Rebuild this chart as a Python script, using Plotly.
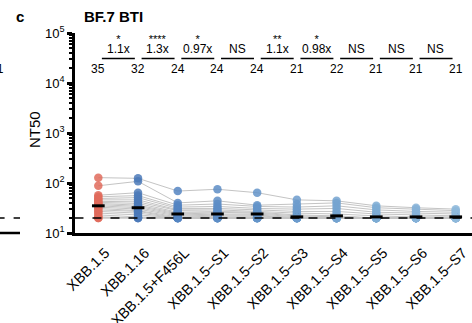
import plotly.graph_objects as go

# Pseudovirus variants tested against BF.7 breakthrough-infection sera
variants = ["XBB.1.5", "XBB.1.16", "XBB.1.5+F456L", "XBB.1.5–S1", "XBB.1.5–S2",
            "XBB.1.5–S3", "XBB.1.5–S4", "XBB.1.5–S5", "XBB.1.5–S6", "XBB.1.5–S7"]
gmt = [35, 32, 24, 24, 24, 21, 22, 21, 21, 21]
fold_change = ["1.1x", "1.3x", "0.97x", "NS", "1.1x", "0.98x", "NS", "NS", "NS"]
significance = ["*", "****", "*", "", "**", "*", "", "", ""]
lod = 20
point_colors = ["#E06B5C", "#4C7AB9", "#5585C2", "#5D8DC6", "#6494C9",
                "#6C9BCC", "#74A3D0", "#7DABD3", "#86B2D7", "#8EB9DA"]

# NT50 per donor (rows) across the variant panel (columns)
titers = [
    [128, 124, 69, 75, 64, 46, 44, 35, 32, 30],
    [88, 108, 40, 44, 36, 38, 40, 32, 30, 28],
    [57, 64, 36, 38, 34, 33, 35, 29, 27, 26],
    [53, 56, 33, 34, 31, 30, 31, 26, 25, 24],
    [49, 51, 31, 31, 29, 27, 27, 24, 23, 22],
    [46, 46, 29, 29, 27, 25, 24, 22, 21, 21],
    [43, 42, 28, 27, 26, 23, 22, 20, 20, 20],
    [41, 39, 26, 26, 25, 22, 21, 20, 20, 20],
    [39, 36, 25, 24, 24, 21, 20, 20, 20, 20],
    [37, 34, 24, 23, 23, 20, 20, 20, 20, 20],
    [35, 32, 23, 22, 22, 20, 20, 20, 20, 20],
    [33, 30, 22, 21, 21, 20, 20, 20, 20, 20],
    [31, 28, 21, 20, 20, 20, 20, 20, 20, 20],
    [29, 27, 20, 20, 20, 20, 20, 20, 20, 20],
    [27, 25, 20, 20, 20, 20, 20, 20, 20, 20],
    [25, 23, 20, 20, 20, 20, 20, 20, 20, 20],
    [23, 21, 20, 20, 20, 20, 20, 20, 20, 20],
    [21, 20, 20, 20, 20, 20, 20, 20, 20, 20],
    [20, 20, 20, 20, 20, 20, 20, 20, 20, 20],
    [20, 20, 20, 20, 20, 20, 20, 20, 20, 20],
]

FONT = "Arial, Liberation Sans, sans-serif"
idx = list(range(len(variants)))

fig = go.Figure()

# paired donor lines
for row in titers:
    fig.add_trace(go.Scatter(x=idx, y=row, mode="lines",
                             line=dict(color="#C4C4C4", width=1),
                             hoverinfo="skip", showlegend=False))

# individual titers
for i, name in enumerate(variants):
    col = [row[i] for row in titers]
    fig.add_trace(go.Scatter(x=[i] * len(col), y=col, mode="markers",
                             marker=dict(color=point_colors[i], size=8.5, opacity=0.85,
                                         line=dict(width=0)),
                             name=name, showlegend=False))

# geometric mean bars
for i, g in enumerate(gmt):
    fig.add_trace(go.Scatter(x=[i - 0.16, i + 0.16], y=[g, g], mode="lines",
                             line=dict(color="black", width=3),
                             hoverinfo="skip", showlegend=False))

# limit of detection
fig.add_trace(go.Scatter(x=[-0.6, len(variants) - 0.5], y=[lod, lod], mode="lines",
                         line=dict(color="black", width=1.5, dash="dash"),
                         hoverinfo="skip", showlegend=False))

annotations = []
shapes = []

# GMT labels under each comparison bracket
for i, g in enumerate(gmt):
    annotations.append(dict(x=i, y=0.82, xref="x", yref="paper", text=str(g),
                            showarrow=False, font=dict(size=12, color="black", family=FONT),
                            xanchor="center", yanchor="middle"))

# fold change with significance stars above, underlined between neighbours
for i, (fc, sig) in enumerate(zip(fold_change, significance)):
    label = f"<span style='font-size:12px'>{fc}</span>"
    if sig:
        label = f"<span style='font-size:11px'>{sig}</span><br>" + label
    annotations.append(dict(x=i + 0.5, y=0.875, xref="x", yref="paper", text=label,
                            showarrow=False, align="center",
                            font=dict(size=7.5, color="black", family=FONT),
                            xanchor="center", yanchor="bottom"))
    shapes.append(dict(type="line", xref="x", yref="paper", x0=i + 0.09, x1=i + 0.92,
                       y0=0.8725, y1=0.8725, line=dict(color="black", width=1.3)))

# panel letter, title and axis title
annotations.append(dict(x=-0.1385, y=1.08, xref="paper", yref="paper", text="<b>c</b>",
                        showarrow=False, font=dict(size=15, color="black", family=FONT),
                        xanchor="center", yanchor="middle"))
annotations.append(dict(x=0.0176, y=1.08, xref="paper", yref="paper", text="<b>BF.7 BTI</b>",
                        showarrow=False, font=dict(size=15, color="black", family=FONT),
                        xanchor="left", yanchor="middle"))
annotations.append(dict(x=-0.103, y=0.515, xref="paper", yref="paper", text="NT50",
                        textangle=-90, showarrow=False,
                        font=dict(size=15, color="black", family=FONT),
                        xanchor="center", yanchor="middle"))

# edge of the neighbouring panel
annotations.append(dict(x=-0.173, y=0.82, xref="paper", yref="paper", text="21",
                        showarrow=False, font=dict(size=12, color="black", family=FONT),
                        xanchor="right", yanchor="middle"))
shapes.append(dict(type="line", xref="paper", yref="paper", x0=-0.2, x1=-0.1385,
                   y0=0.0, y1=0.0, line=dict(color="black", width=2.5)))
shapes.append(dict(type="line", xref="paper", yref="paper", x0=-0.2, x1=-0.1385,
                   y0=0.075, y1=0.075, line=dict(color="black", width=1.5, dash="dash")))

fig.update_layout(
    width=472, height=323,
    margin=dict(l=75, r=0, t=33, b=90, autoexpand=False),
    plot_bgcolor="white", paper_bgcolor="white",
    font=dict(family=FONT, color="black", size=13),
    annotations=annotations, shapes=shapes,
    xaxis=dict(range=[-0.587, 9.41], tickvals=idx, ticktext=variants, tickangle=-45,
               showline=True, linecolor="black", linewidth=2.5, ticks="",
               ticklabelshift=7, ticklabelstandoff=3, ticklabeloverflow="allow",
               automargin=False,
               showgrid=False, zeroline=False, tickfont=dict(size=14.5, family=FONT)),
    yaxis=dict(type="log", range=[1, 5], tickvals=[10, 100, 1000, 10000, 100000],
               ticktext=["10<sup>1</sup>", "10<sup>2</sup>", "10<sup>3</sup>",
                         "10<sup>4</sup>", "10<sup>5</sup>"],
               showline=True, linecolor="black", linewidth=2.5, automargin=False,
               ticks="outside", ticklen=5, tickwidth=2.5, tickcolor="black",
               minor=dict(ticks="outside", ticklen=3, tickwidth=1.5, tickcolor="black",
                          dtick="D1", showgrid=False),
               showgrid=False, zeroline=False, tickfont=dict(size=13, family=FONT)),
)

fig.write_html("out.html")
